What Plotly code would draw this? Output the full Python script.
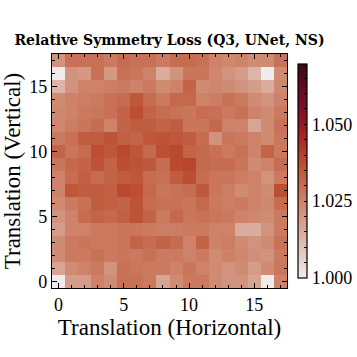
import plotly.graph_objects as go

title_text = "<b>Relative Symmetry Loss (Q3, UNet, NS)</b>"
x_label = "Translation (Horizontal)"
y_label = "Translation (Vertical)"
cols = list(range(18))
rows = list(range(18))

# z values, row 0 = bottom (vertical translation 0)
row0 = [1.000, 1.019, 1.019, 1.025, 1.023, 1.029, 1.029, 1.027, 1.017, 1.023, 1.027, 1.027, 1.023, 1.021, 1.021, 1.017, 1.000, 1.025]
row1 = [1.017, 1.023, 1.025, 1.027, 1.021, 1.029, 1.028, 1.027, 1.027, 1.025, 1.028, 1.025, 1.023, 1.021, 1.023, 1.019, 1.023, 1.028]
row2 = [1.023, 1.027, 1.027, 1.029, 1.027, 1.028, 1.027, 1.029, 1.027, 1.027, 1.025, 1.027, 1.023, 1.025, 1.024, 1.022, 1.021, 1.027]
row3 = [1.023, 1.027, 1.028, 1.027, 1.027, 1.028, 1.032, 1.030, 1.032, 1.030, 1.025, 1.032, 1.025, 1.026, 1.023, 1.021, 1.023, 1.029]
row4 = [1.019, 1.025, 1.025, 1.027, 1.027, 1.028, 1.028, 1.027, 1.026, 1.026, 1.027, 1.027, 1.025, 1.025, 1.015, 1.015, 1.021, 1.027]
row5 = [1.021, 1.025, 1.030, 1.032, 1.031, 1.033, 1.036, 1.032, 1.027, 1.031, 1.028, 1.029, 1.028, 1.027, 1.025, 1.024, 1.023, 1.027]
row6 = [1.023, 1.027, 1.029, 1.034, 1.033, 1.032, 1.036, 1.030, 1.029, 1.029, 1.028, 1.031, 1.027, 1.026, 1.027, 1.025, 1.024, 1.030]
row7 = [1.025, 1.035, 1.034, 1.034, 1.033, 1.038, 1.037, 1.031, 1.028, 1.029, 1.030, 1.035, 1.028, 1.026, 1.023, 1.025, 1.023, 1.037]
row8 = [1.025, 1.030, 1.033, 1.030, 1.032, 1.034, 1.035, 1.030, 1.029, 1.034, 1.037, 1.030, 1.028, 1.028, 1.026, 1.025, 1.021, 1.027]
row9 = [1.028, 1.031, 1.032, 1.036, 1.032, 1.037, 1.036, 1.035, 1.030, 1.038, 1.039, 1.031, 1.030, 1.030, 1.028, 1.023, 1.025, 1.030]
row10 = [1.032, 1.028, 1.030, 1.037, 1.035, 1.038, 1.035, 1.031, 1.037, 1.038, 1.032, 1.031, 1.029, 1.027, 1.029, 1.025, 1.032, 1.027]
row11 = [1.027, 1.029, 1.034, 1.034, 1.036, 1.033, 1.032, 1.035, 1.036, 1.035, 1.034, 1.030, 1.021, 1.028, 1.027, 1.025, 1.023, 1.028]
row12 = [1.024, 1.026, 1.028, 1.030, 1.025, 1.032, 1.034, 1.034, 1.032, 1.034, 1.028, 1.028, 1.031, 1.025, 1.025, 1.017, 1.023, 1.029]
row13 = [1.024, 1.025, 1.027, 1.028, 1.029, 1.032, 1.037, 1.032, 1.030, 1.029, 1.028, 1.030, 1.029, 1.027, 1.029, 1.025, 1.023, 1.027]
row14 = [1.023, 1.025, 1.026, 1.027, 1.029, 1.030, 1.035, 1.030, 1.027, 1.031, 1.031, 1.025, 1.026, 1.029, 1.027, 1.023, 1.021, 1.025]
row15 = [1.013, 1.021, 1.025, 1.025, 1.026, 1.027, 1.025, 1.027, 1.023, 1.025, 1.032, 1.023, 1.024, 1.023, 1.021, 1.019, 1.015, 1.024]
row16 = [1.000, 1.021, 1.020, 1.029, 1.020, 1.029, 1.028, 1.025, 1.015, 1.021, 1.028, 1.028, 1.024, 1.021, 1.019, 1.013, 1.000, 1.023]
row17 = [1.021, 1.029, 1.029, 1.029, 1.027, 1.030, 1.029, 1.029, 1.027, 1.030, 1.030, 1.029, 1.025, 1.024, 1.025, 1.023, 1.023, 1.029]
z = [row0, row1, row2, row3, row4, row5, row6, row7, row8, row9,
     row10, row11, row12, row13, row14, row15, row16, row17]

cbar_ticks = [1.000, 1.005, 1.010, 1.015, 1.020, 1.025, 1.030, 1.035, 1.040, 1.045, 1.050, 1.055, 1.060, 1.065]
cbar_labels = ["1.000", "", "", "", "", "1.025", "", "", "", "", "1.050", "", "", ""]
zmin, zmax = 1.000, 1.0696

serif = "Liberation Serif"

fig = go.Figure(go.Heatmap(
    z=z, x=cols, y=rows,
    colorscale="amp", zmin=zmin, zmax=zmax,
    colorbar=dict(
        x=1.038, xanchor="left", xref="paper", xpad=2,
        y=0.5, yanchor="middle", len=1.0, lenmode="fraction",
        thickness=9, outlinewidth=1.2, outlinecolor="black",
        tickvals=cbar_ticks, ticktext=cbar_labels,
        ticks="inside", ticklen=3, tickcolor="black",
        tickfont=dict(family=serif, size=18, color="black"),
    ),
))

axis_common = dict(
    showline=True, linecolor="black", linewidth=1.2, mirror="allticks",
    ticks="inside", ticklen=5, tickcolor="black", tickwidth=1,
    showgrid=False, zeroline=False,
    tickvals=[0, 5, 10, 15],
    minor=dict(tickvals=cols, ticks="inside", ticklen=3, tickcolor="black", showgrid=False),
    tickfont=dict(family=serif, size=18, color="black"),
    range=[-0.5, 17.5],
)

fig.update_layout(
    width=357, height=357,
    margin=dict(l=52, r=70, t=54, b=69, autoexpand=False),
    paper_bgcolor="white", plot_bgcolor="white",
    title=dict(text=title_text, x=0.5, xanchor="center", y=1 - 40 / 357, yanchor="middle",
               xref="paper", yref="container",
               font=dict(family="DejaVu Serif", size=14, color="black")),
    xaxis=dict(axis_common, title=dict(text=x_label, standoff=2,
               font=dict(family=serif, size=23, color="black"))),
    yaxis=dict(axis_common, title=dict(text=y_label, standoff=2,
               font=dict(family=serif, size=23, color="black"))),
)

fig.write_html("out.html", config={"displayModeBar": False},
               post_script="document.body.style.margin='0';")
